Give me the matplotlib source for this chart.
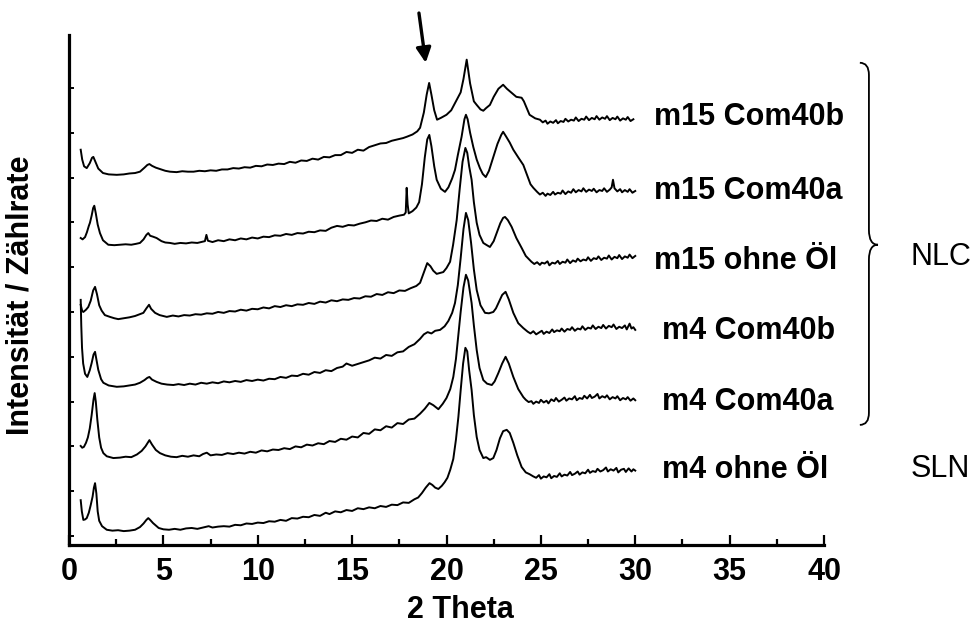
import matplotlib
matplotlib.use("Agg")
import matplotlib.pyplot as plt
from matplotlib.path import Path
from matplotlib.patches import PathPatch

plt.rcParams['font.family'] = ['Liberation Sans', 'DejaVu Sans']

# ---- data (stacked XRD patterns, arbitrary intensity units incl. stacking offset) ----
labels = ["m4 ohne Öl", "m4 Com40a", "m4 Com40b",
          "m15 ohne Öl", "m15 Com40a", "m15 Com40b"]

m4_ohne = [
    (0.62, 0.80), (0.68, 0.55), (0.76, 0.36), (0.85, 0.37), (0.94, 0.40), (1.05, 0.52), (1.15, 0.69),
    (1.25, 0.88), (1.32, 1.08), (1.38, 1.18), (1.45, 0.95), (1.52, 0.55), (1.6, 0.34), (1.75, 0.22),
    (2.0, 0.14), (2.3, 0.12), (2.6, 0.13), (2.9, 0.11), (3.2, 0.12), (3.5, 0.14), (3.76, 0.20),
    (3.95, 0.28), (4.1, 0.36), (4.2, 0.40), (4.3, 0.36), (4.45, 0.29), (4.56, 0.25), (4.75, 0.18),
    (5.0, 0.15), (5.3, 0.14), (5.6, 0.16), (5.9, 0.14), (6.2, 0.17), (6.5, 0.18), (6.8, 0.16),
    (7.1, 0.19), (7.4, 0.22), (7.6, 0.19), (7.9, 0.21), (8.2, 0.22), (8.5, 0.21), (8.8, 0.25),
    (9.1, 0.24), (9.4, 0.28), (9.7, 0.27), (10.0, 0.30), (10.3, 0.29), (10.6, 0.33), (10.9, 0.32),
    (11.2, 0.36), (11.5, 0.34), (11.8, 0.40), (12.1, 0.39), (12.4, 0.43), (12.7, 0.42), (13.0, 0.47),
    (13.3, 0.45), (13.6, 0.52), (13.8, 0.49), (14.1, 0.55), (14.4, 0.53), (14.7, 0.58), (15.0, 0.56),
    (15.3, 0.62), (15.6, 0.60), (15.9, 0.64), (16.2, 0.62), (16.5, 0.67), (16.8, 0.65), (17.1, 0.70),
    (17.4, 0.69), (17.7, 0.75), (18.0, 0.74), (18.3, 0.82), (18.5, 0.86), (18.7, 0.96), (18.9, 1.08),
    (19.1, 1.18), (19.25, 1.14), (19.4, 1.08), (19.57, 1.05), (19.75, 1.12), (19.9, 1.20),
    (20.05, 1.30), (20.2, 1.48), (20.36, 1.72), (20.5, 2.15), (20.63, 2.66), (20.75, 3.25),
    (20.88, 3.85), (21.0, 4.20), (21.1, 4.12), (21.2, 3.70), (21.33, 3.26), (21.45, 2.70),
    (21.6, 2.21), (21.75, 1.92), (21.95, 1.74), (22.1, 1.76), (22.3, 1.70), (22.48, 1.74),
    (22.65, 1.92), (22.83, 2.18), (23.0, 2.34), (23.19, 2.37), (23.35, 2.30), (23.54, 2.08),
    (23.75, 1.80), (23.98, 1.54), (24.2, 1.42), (24.4, 1.38), (24.6, 1.33), (24.75, 1.30),
    (24.9, 1.36), (25.0, 1.28), (25.15, 1.33), (25.3, 1.31), (25.45, 1.38), (25.55, 1.29),
    (25.7, 1.34), (25.85, 1.32), (26.0, 1.40), (26.1, 1.33), (26.25, 1.37), (26.4, 1.35),
    (26.55, 1.43), (26.65, 1.36), (26.8, 1.39), (26.95, 1.44), (27.05, 1.37), (27.2, 1.42),
    (27.35, 1.40), (27.5, 1.48), (27.6, 1.41), (27.75, 1.45), (27.9, 1.43), (28.0, 1.50),
    (28.15, 1.44), (28.3, 1.47), (28.45, 1.53), (28.55, 1.44), (28.7, 1.49), (28.85, 1.46),
    (29.0, 1.52), (29.1, 1.42), (29.25, 1.48), (29.4, 1.50), (29.5, 1.43), (29.65, 1.51),
    (29.8, 1.44), (29.9, 1.49), (30.0, 1.46)]

m4_com40a = [
    (0.62, 2.01), (0.7, 1.97), (0.79, 1.99), (0.9, 2.08), (1.0, 2.20), (1.1, 2.40), (1.2, 2.70),
    (1.3, 3.05), (1.36, 3.19), (1.42, 3.00), (1.5, 2.60), (1.6, 2.20), (1.7, 1.97), (1.82, 1.85),
    (2.0, 1.78), (2.35, 1.74), (2.7, 1.75), (3.0, 1.77), (3.3, 1.76), (3.6, 1.82), (3.85, 1.90),
    (4.05, 2.00), (4.26, 2.14), (4.4, 2.04), (4.6, 1.92), (4.82, 1.85), (5.1, 1.80), (5.4, 1.77),
    (5.7, 1.76), (6.0, 1.79), (6.3, 1.77), (6.6, 1.80), (6.9, 1.78), (7.1, 1.83), (7.3, 1.86),
    (7.5, 1.80), (7.8, 1.82), (8.1, 1.81), (8.4, 1.85), (8.7, 1.83), (9.0, 1.86), (9.3, 1.84),
    (9.6, 1.88), (9.9, 1.86), (10.2, 1.91), (10.5, 1.89), (10.8, 1.93), (11.1, 1.92), (11.4, 1.96),
    (11.7, 1.94), (12.0, 2.00), (12.3, 1.98), (12.6, 2.04), (12.9, 2.02), (13.2, 2.07), (13.5, 2.05),
    (13.8, 2.12), (14.1, 2.10), (14.4, 2.17), (14.7, 2.15), (15.0, 2.22), (15.3, 2.20), (15.6, 2.30),
    (15.9, 2.28), (16.2, 2.38), (16.5, 2.36), (16.8, 2.45), (17.1, 2.42), (17.4, 2.52), (17.7, 2.50),
    (18.0, 2.60), (18.3, 2.62), (18.6, 2.73), (18.85, 2.84), (19.09, 2.97), (19.3, 2.92),
    (19.57, 2.83), (19.8, 2.95), (20.0, 3.08), (20.2, 3.28), (20.36, 3.55), (20.5, 3.95),
    (20.62, 4.45), (20.75, 5.00), (20.9, 5.55), (21.03, 5.83), (21.15, 5.70), (21.33, 5.20),
    (21.45, 4.70), (21.6, 4.15), (21.75, 3.75), (21.95, 3.48), (22.15, 3.40), (22.4, 3.37),
    (22.55, 3.45), (22.75, 3.64), (22.95, 3.85), (23.13, 4.00), (23.3, 3.85), (23.54, 3.55),
    (23.8, 3.28), (24.07, 3.10), (24.2, 3.04), (24.35, 2.99), (24.5, 3.01), (24.6, 2.95),
    (24.75, 3.00), (24.9, 2.97), (25.0, 3.04), (25.15, 2.98), (25.3, 3.02), (25.4, 2.96),
    (25.55, 3.05), (25.7, 3.01), (25.8, 3.08), (25.95, 3.00), (26.1, 3.04), (26.25, 3.09),
    (26.35, 3.02), (26.5, 3.07), (26.65, 3.05), (26.8, 3.12), (26.9, 3.03), (27.05, 3.08),
    (27.2, 3.06), (27.3, 3.13), (27.45, 3.07), (27.6, 3.15), (27.7, 3.08), (27.85, 3.11),
    (28.0, 3.17), (28.1, 3.07), (28.25, 3.12), (28.4, 3.09), (28.5, 3.14), (28.65, 3.05),
    (28.8, 3.10), (28.95, 3.07), (29.05, 3.12), (29.2, 3.03), (29.35, 3.08), (29.5, 3.05),
    (29.6, 3.10), (29.75, 3.02), (29.9, 3.07), (30.0, 3.03)]

m4_com40b = [
    (0.62, 5.27), (0.65, 4.70), (0.69, 4.20), (0.75, 3.85), (0.85, 3.62), (0.97, 3.55), (1.1, 3.70),
    (1.2, 3.86), (1.3, 4.05), (1.38, 4.11), (1.45, 3.95), (1.55, 3.71), (1.7, 3.50), (1.82, 3.42),
    (2.1, 3.36), (2.53, 3.33), (2.9, 3.34), (3.2, 3.36), (3.5, 3.38), (3.76, 3.42), (4.0, 3.48),
    (4.15, 3.53), (4.26, 3.55), (4.4, 3.49), (4.64, 3.44), (4.9, 3.40), (5.2, 3.38), (5.53, 3.37),
    (5.8, 3.39), (6.1, 3.37), (6.4, 3.40), (6.7, 3.38), (7.0, 3.42), (7.3, 3.40), (7.6, 3.43),
    (7.9, 3.41), (8.2, 3.45), (8.5, 3.43), (8.8, 3.46), (9.1, 3.44), (9.4, 3.48), (9.7, 3.46),
    (10.0, 3.49), (10.3, 3.47), (10.6, 3.51), (10.9, 3.50), (11.2, 3.55), (11.5, 3.53), (11.8, 3.58),
    (12.1, 3.57), (12.4, 3.62), (12.7, 3.60), (13.0, 3.66), (13.3, 3.64), (13.6, 3.70), (13.9, 3.68),
    (14.2, 3.75), (14.5, 3.78), (14.7, 3.85), (15.0, 3.80), (15.3, 3.84), (15.6, 3.88), (15.9, 3.92),
    (16.2, 3.98), (16.5, 3.96), (16.8, 4.04), (17.1, 4.02), (17.4, 4.10), (17.7, 4.12), (18.0, 4.22),
    (18.3, 4.28), (18.6, 4.40), (18.8, 4.50), (19.0, 4.55), (19.2, 4.52), (19.4, 4.58), (19.66, 4.60),
    (19.9, 4.68), (20.1, 4.80), (20.3, 4.98), (20.45, 5.20), (20.6, 5.60), (20.75, 6.20),
    (20.9, 6.85), (21.03, 7.21), (21.15, 7.05), (21.3, 6.55), (21.45, 5.95), (21.6, 5.49),
    (21.8, 5.15), (22.04, 4.98), (22.25, 4.97), (22.48, 5.00), (22.62, 5.08), (22.75, 5.20),
    (22.95, 5.38), (23.13, 5.45), (23.3, 5.28), (23.54, 4.98), (23.8, 4.75), (24.07, 4.64),
    (24.3, 4.56), (24.45, 4.52), (24.6, 4.57), (24.75, 4.50), (24.9, 4.54), (25.05, 4.58),
    (25.15, 4.51), (25.3, 4.56), (25.45, 4.53), (25.6, 4.61), (25.7, 4.55), (25.85, 4.59),
    (26.0, 4.57), (26.1, 4.63), (26.25, 4.56), (26.4, 4.62), (26.55, 4.60), (26.65, 4.66),
    (26.8, 4.58), (26.95, 4.63), (27.1, 4.61), (27.2, 4.68), (27.35, 4.60), (27.5, 4.65),
    (27.65, 4.63), (27.75, 4.70), (27.9, 4.62), (28.05, 4.67), (28.2, 4.64), (28.3, 4.71),
    (28.45, 4.63), (28.6, 4.69), (28.75, 4.66), (28.85, 4.72), (29.0, 4.62), (29.15, 4.67),
    (29.3, 4.64), (29.45, 4.70), (29.55, 4.61), (29.7, 4.74), (29.8, 4.63), (29.9, 4.66),
    (30.0, 4.60)]

m15_ohne = [
    (0.62, 5.16), (0.7, 5.02), (0.76, 5.00), (0.9, 5.05), (1.02, 5.11), (1.15, 5.25), (1.28, 5.48),
    (1.38, 5.56), (1.48, 5.40), (1.6, 5.15), (1.73, 5.03), (1.9, 4.93), (2.17, 4.89), (2.4, 4.86),
    (2.61, 4.84), (2.9, 4.86), (3.2, 4.88), (3.5, 4.91), (3.75, 4.95), (3.94, 4.98), (4.1, 5.08),
    (4.24, 5.16), (4.35, 5.07), (4.56, 4.98), (4.8, 4.93), (5.18, 4.89), (5.5, 4.92), (5.8, 4.90),
    (6.1, 4.93), (6.4, 4.92), (6.7, 4.95), (7.0, 4.94), (7.3, 4.97), (7.6, 4.96), (7.9, 5.00),
    (8.2, 4.98), (8.5, 5.02), (8.8, 5.01), (9.1, 5.05), (9.4, 5.03), (9.7, 5.07), (10.0, 5.06),
    (10.3, 5.10), (10.6, 5.08), (10.9, 5.13), (11.2, 5.11), (11.5, 5.15), (11.8, 5.13), (12.1, 5.17),
    (12.4, 5.16), (12.7, 5.20), (13.0, 5.18), (13.3, 5.23), (13.6, 5.21), (13.9, 5.26), (14.2, 5.24),
    (14.5, 5.28), (14.8, 5.27), (15.1, 5.31), (15.4, 5.30), (15.7, 5.35), (16.0, 5.34), (16.3, 5.40),
    (16.6, 5.38), (16.9, 5.44), (17.2, 5.42), (17.5, 5.48), (17.8, 5.47), (18.1, 5.53), (18.4, 5.58),
    (18.6, 5.65), (18.8, 5.88), (18.98, 6.09), (19.15, 6.02), (19.3, 5.92), (19.48, 5.85),
    (19.65, 5.87), (19.83, 5.89), (20.0, 5.98), (20.19, 6.12), (20.35, 6.50), (20.54, 7.05),
    (20.7, 7.75), (20.85, 8.35), (21.0, 8.66), (21.1, 8.55), (21.2, 8.25), (21.33, 7.95),
    (21.45, 7.45), (21.6, 6.99), (21.75, 6.72), (21.95, 6.54), (22.1, 6.50), (22.3, 6.45),
    (22.5, 6.58), (22.66, 6.76), (22.85, 6.98), (23.0, 7.10), (23.1, 7.12), (23.25, 7.05),
    (23.45, 6.90), (23.7, 6.65), (23.98, 6.43), (24.2, 6.25), (24.5, 6.12), (24.65, 6.07),
    (24.8, 6.11), (24.95, 6.05), (25.05, 6.10), (25.2, 6.08), (25.35, 6.13), (25.45, 6.04),
    (25.6, 6.10), (25.75, 6.08), (25.9, 6.14), (26.0, 6.07), (26.15, 6.12), (26.3, 6.10),
    (26.4, 6.17), (26.55, 6.09), (26.7, 6.15), (26.85, 6.12), (26.95, 6.19), (27.1, 6.13),
    (27.25, 6.17), (27.4, 6.15), (27.5, 6.22), (27.65, 6.14), (27.8, 6.20), (27.95, 6.18),
    (28.05, 6.24), (28.2, 6.16), (28.35, 6.21), (28.5, 6.19), (28.6, 6.26), (28.75, 6.17),
    (28.9, 6.23), (29.05, 6.20), (29.15, 6.27), (29.3, 6.18), (29.45, 6.24), (29.6, 6.21),
    (29.7, 6.28), (29.85, 6.20), (30.0, 6.25)]

m15_com40a = [
    (0.62, 6.65), (0.72, 6.62), (0.85, 6.67), (0.95, 6.78), (1.05, 6.92), (1.11, 6.99), (1.2, 7.15),
    (1.28, 7.32), (1.34, 7.37), (1.42, 7.20), (1.52, 6.95), (1.64, 6.76), (1.8, 6.60), (2.08, 6.50),
    (2.4, 6.49), (2.7, 6.50), (3.0, 6.51), (3.3, 6.50), (3.55, 6.52), (3.76, 6.54), (3.95, 6.62),
    (4.1, 6.72), (4.2, 6.76), (4.3, 6.70), (4.45, 6.68), (4.64, 6.65), (4.9, 6.58), (5.1, 6.55),
    (5.35, 6.54), (5.6, 6.52), (5.9, 6.54), (6.2, 6.53), (6.5, 6.55), (6.8, 6.54), (7.0, 6.56),
    (7.2, 6.58), (7.28, 6.72), (7.36, 6.59), (7.6, 6.56), (7.9, 6.60), (8.2, 6.58), (8.5, 6.62),
    (8.8, 6.60), (9.1, 6.64), (9.4, 6.62), (9.7, 6.66), (10.0, 6.64), (10.3, 6.68), (10.6, 6.67),
    (10.9, 6.71), (11.2, 6.70), (11.5, 6.74), (11.8, 6.72), (12.1, 6.76), (12.4, 6.75), (12.7, 6.79),
    (13.0, 6.78), (13.3, 6.82), (13.6, 6.81), (13.9, 6.88), (14.2, 6.92), (14.5, 6.90), (14.8, 6.94),
    (15.1, 6.93), (15.4, 6.97), (15.7, 7.00), (16.0, 7.04), (16.3, 7.03), (16.6, 7.08), (16.9, 7.06),
    (17.2, 7.12), (17.5, 7.15), (17.75, 7.17), (17.84, 7.22), (17.89, 7.77), (17.94, 7.40),
    (18.0, 7.20), (18.2, 7.25), (18.4, 7.33), (18.55, 7.45), (18.7, 7.85), (18.85, 8.45),
    (18.98, 8.85), (19.09, 8.95), (19.2, 8.70), (19.35, 8.25), (19.48, 7.95), (19.7, 7.75),
    (19.92, 7.68), (20.1, 7.78), (20.3, 7.98), (20.45, 8.17), (20.6, 8.50), (20.8, 8.91),
    (20.95, 9.30), (21.03, 9.40), (21.12, 9.30), (21.25, 9.00), (21.42, 8.68), (21.6, 8.40),
    (21.77, 8.21), (21.92, 8.08), (22.08, 8.01), (22.25, 8.15), (22.48, 8.46), (22.7, 8.75),
    (22.9, 8.95), (23.0, 9.02), (23.15, 8.92), (23.35, 8.78), (23.54, 8.62), (23.8, 8.45),
    (24.07, 8.28), (24.3, 8.02), (24.45, 7.85), (24.6, 7.77), (24.8, 7.68), (24.95, 7.62),
    (25.1, 7.66), (25.25, 7.59), (25.35, 7.64), (25.5, 7.61), (25.65, 7.68), (25.75, 7.62),
    (25.9, 7.66), (26.05, 7.64), (26.15, 7.71), (26.3, 7.63), (26.45, 7.69), (26.6, 7.66),
    (26.72, 7.74), (26.85, 7.67), (27.0, 7.72), (27.15, 7.69), (27.25, 7.76), (27.4, 7.68),
    (27.55, 7.73), (27.7, 7.70), (27.8, 7.75), (27.95, 7.67), (28.1, 7.72), (28.25, 7.70),
    (28.35, 7.76), (28.5, 7.68), (28.65, 7.73), (28.75, 7.78), (28.82, 7.95), (28.9, 7.76),
    (29.05, 7.69), (29.2, 7.74), (29.3, 7.67), (29.45, 7.72), (29.6, 7.68), (29.7, 7.74),
    (29.85, 7.66), (30.0, 7.70)]

m15_com40b = [
    (0.62, 8.62), (0.7, 8.40), (0.8, 8.25), (0.94, 8.21), (1.1, 8.32), (1.22, 8.44), (1.29, 8.46),
    (1.4, 8.35), (1.55, 8.20), (1.8, 8.10), (2.1, 8.07), (2.53, 8.06), (2.9, 8.07), (3.2, 8.09),
    (3.5, 8.10), (3.76, 8.13), (4.0, 8.22), (4.15, 8.28), (4.26, 8.30), (4.4, 8.26), (4.6, 8.22),
    (4.82, 8.19), (5.1, 8.15), (5.35, 8.13), (5.7, 8.12), (6.0, 8.14), (6.3, 8.13), (6.6, 8.13),
    (6.9, 8.15), (7.2, 8.14), (7.5, 8.16), (7.8, 8.15), (8.1, 8.18), (8.4, 8.18), (8.7, 8.21),
    (9.0, 8.20), (9.3, 8.23), (9.6, 8.22), (9.9, 8.26), (10.2, 8.25), (10.5, 8.29), (10.8, 8.28),
    (11.1, 8.31), (11.4, 8.30), (11.7, 8.35), (12.0, 8.33), (12.3, 8.38), (12.6, 8.37), (12.9, 8.42),
    (13.2, 8.40), (13.5, 8.46), (13.8, 8.45), (14.1, 8.50), (14.4, 8.50), (14.7, 8.57), (15.0, 8.55),
    (15.3, 8.62), (15.6, 8.60), (15.9, 8.68), (16.2, 8.72), (16.5, 8.76), (16.8, 8.77), (17.1, 8.82),
    (17.4, 8.85), (17.7, 8.88), (17.9, 8.91), (18.2, 8.96), (18.45, 9.03), (18.6, 9.11), (18.8, 9.45),
    (18.95, 9.85), (19.08, 10.11), (19.2, 9.85), (19.35, 9.50), (19.5, 9.29), (19.7, 9.33),
    (20.0, 9.40), (20.25, 9.50), (20.54, 9.73), (20.75, 9.90), (20.9, 10.20), (21.07, 10.63),
    (21.25, 10.10), (21.45, 9.70), (21.6, 9.62), (21.8, 9.52), (21.95, 9.49), (22.1, 9.55),
    (22.3, 9.62), (22.5, 9.80), (22.75, 9.98), (23.0, 10.07), (23.2, 9.98), (23.45, 9.89),
    (23.7, 9.80), (23.98, 9.78), (24.1, 9.70), (24.25, 9.55), (24.4, 9.40), (24.7, 9.32),
    (24.95, 9.29), (25.1, 9.23), (25.25, 9.27), (25.35, 9.20), (25.5, 9.25), (25.65, 9.22),
    (25.8, 9.28), (25.9, 9.21), (26.05, 9.26), (26.2, 9.24), (26.3, 9.31), (26.45, 9.25),
    (26.6, 9.29), (26.75, 9.27), (26.85, 9.34), (27.0, 9.26), (27.15, 9.31), (27.3, 9.29),
    (27.4, 9.36), (27.55, 9.28), (27.7, 9.33), (27.85, 9.30), (27.95, 9.37), (28.1, 9.29),
    (28.25, 9.34), (28.4, 9.31), (28.5, 9.37), (28.65, 9.28), (28.8, 9.33), (28.95, 9.30),
    (29.05, 9.36), (29.2, 9.27), (29.35, 9.32), (29.5, 9.29), (29.6, 9.35), (29.75, 9.26),
    (29.9, 9.30)]

series = [m4_ohne, m4_com40a, m4_com40b, m15_ohne, m15_com40a, m15_com40b]

x_ticks = [0, 5, 10, 15, 20, 25, 30, 35, 40]
x_minor_ticks = [2.5, 7.5, 12.5, 17.5, 22.5, 27.5, 32.5, 37.5]
y_ticks = [0, 1, 2, 3, 4, 5, 6, 7, 8, 9, 10]

# ---- figure ----
fig = plt.figure(figsize=(9.74, 6.25), dpi=100)
ax = fig.add_axes([69 / 974, 80 / 625, 755 / 974, 510 / 625])

for pts in series:
    xs = [p[0] for p in pts]
    ys = [p[1] for p in pts]
    ax.plot(xs, ys, color='black', lw=1.4)

ax.set_xlim(0, 40)
ax.set_ylim(-0.2, 11.18)
ax.set_xticks(x_ticks)
ax.set_xticks(x_minor_ticks, minor=True)
ax.set_yticks(y_ticks)
ax.set_yticklabels([])
for s in ['top', 'right']:
    ax.spines[s].set_visible(False)
for s in ['left', 'bottom']:
    ax.spines[s].set_linewidth(2.3)
ax.tick_params(axis='x', which='major', direction='in', length=7.5, width=1.6,
               labelsize=22, pad=9)
ax.tick_params(axis='x', which='minor', direction='in', length=4.5, width=1.6)
ax.tick_params(axis='y', which='major', direction='in', length=3.5, width=1.4)
for lab in ax.get_xticklabels():
    lab.set_fontweight('bold')

ax.set_xlabel('2 Theta', fontsize=22, fontweight='bold')
ax.xaxis.set_label_coords(0.519, -0.098)
ax.set_ylabel('Intensität / Zählrate', fontsize=22, fontweight='bold')
ax.yaxis.set_label_coords(-0.045, 0.49)

# sample labels
label_x = [31.4, 31.4, 31.4, 31.0, 31.0, 31.0]
label_y = [1.29, 2.81, 4.40, 5.96, 7.52, 9.17]
for t, lx, ly in zip(labels, label_x, label_y):
    ax.text(lx, ly, t, fontsize=22, fontweight='bold', ha='left', va='baseline',
            clip_on=False)

ax.text(44.6, 6.05, 'NLC', fontsize=22, ha='left', va='baseline', clip_on=False)
ax.text(44.6, 1.32, 'SLN', fontsize=22, ha='left', va='baseline', clip_on=False)

# curly brace for the NLC group
xe, xs_, xc = 41.9, 42.38, 42.86
yt, ym, yb = 10.56, 6.50, 2.48
verts = [(xe, yt), (xs_, yt), (xs_, yt - 0.27),
         (xs_, ym + 0.33),
         (xs_, ym), (xc, ym),
         (xs_, ym), (xs_, ym - 0.33),
         (xs_, yb + 0.27),
         (xs_, yb), (xe, yb)]
codes = [Path.MOVETO, Path.CURVE3, Path.CURVE3,
         Path.LINETO,
         Path.CURVE3, Path.CURVE3,
         Path.CURVE3, Path.CURVE3,
         Path.LINETO,
         Path.CURVE3, Path.CURVE3]
ax.add_patch(PathPatch(Path(verts, codes), fill=False, lw=1.3, color='black', clip_on=False))

# arrow marking the reflection near 19°
ax.annotate('', xy=(18.9, 10.56), xytext=(18.54, 11.67),
            arrowprops=dict(arrowstyle='-|>', lw=2.4, color='black',
                            mutation_scale=22, shrinkA=0, shrinkB=0),
            annotation_clip=False)

fig.savefig('out.png', dpi=100)
